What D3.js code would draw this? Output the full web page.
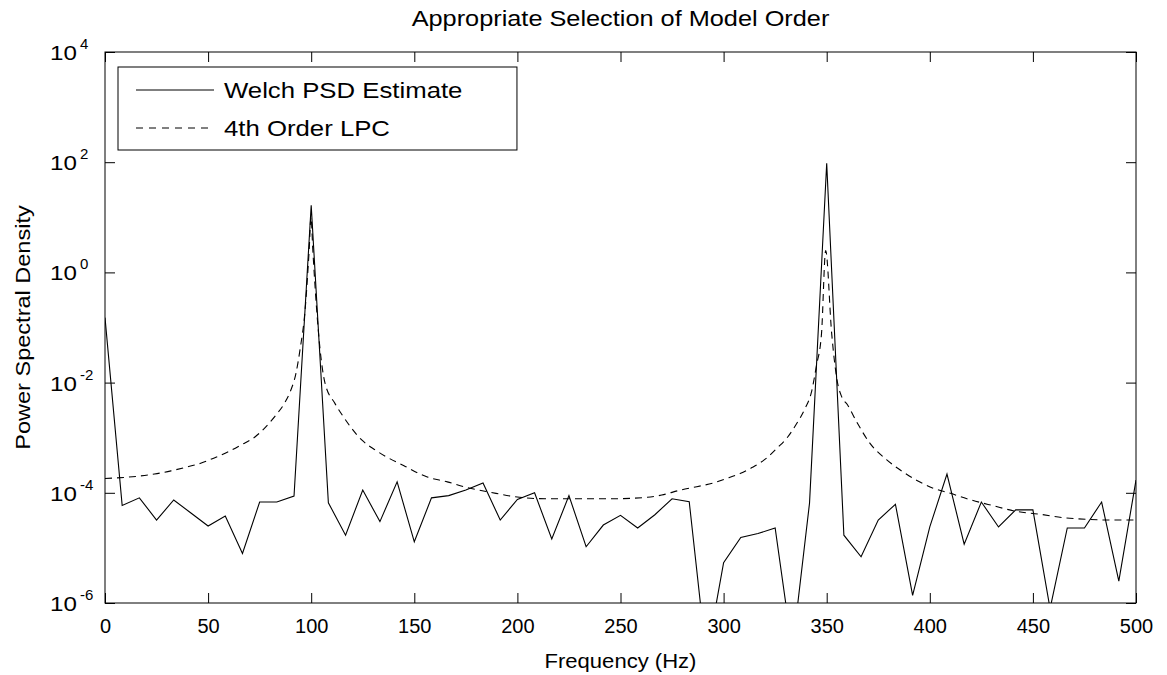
<!DOCTYPE html>
<html><head><meta charset="utf-8">
<script src="https://cdn.jsdelivr.net/npm/d3@7"></script>
<style>
body{margin:0;background:#fff;}
text{font-family:"Liberation Sans",Arial,Helvetica,sans-serif;fill:#000;}
</style></head>
<body><svg id="c" width="1167" height="675"></svg>
<script>
// ---- data ----
const title = "Appropriate Selection of Model Order";
const xLabel = "Frequency (Hz)";
const yLabel = "Power Spectral Density";
const seriesNames = ["Welch PSD Estimate", "4th Order LPC"];
const xTicks = [0, 50, 100, 150, 200, 250, 300, 350, 400, 450, 500];
const yTickExponents = [4, 2, 0, -2, -4, -6];

const welchFreq = [0, 8.33, 16.67, 25, 33.33, 41.67, 50, 58.33, 66.67, 75, 83.33, 91.67, 100, 108.33, 116.67, 125, 133.33, 141.67, 150, 158.33, 166.67, 175, 183.33, 191.67, 200, 208.33, 216.67, 225, 233.33, 241.67, 250, 258.33, 266.67, 275, 283.33, 291.67, 300, 308.33, 316.67, 325, 333.33, 341.67, 350, 358.33, 366.67, 375, 383.33, 391.67, 400, 408.33, 416.67, 425, 433.33, 441.67, 450, 458.33, 466.67, 475, 483.33, 491.67, 500];
const welchPSD = [1.51e-1, 5.9e-5, 8.1e-5, 3.2e-5, 7.4e-5, 4.3e-5, 2.5e-5, 3.8e-5, 7.9e-6, 6.8e-5, 6.8e-5, 8.7e-5, 16.6, 6.6e-5, 1.7e-5, 1.12e-4, 3.0e-5, 1.58e-4, 1.29e-5, 8.1e-5, 8.9e-5, 1.12e-4, 1.51e-4, 3.2e-5, 7.6e-5, 1.0e-4, 1.45e-5, 8.9e-5, 1.05e-5, 2.6e-5, 3.9e-5, 2.3e-5, 4.0e-5, 7.8e-5, 6.9e-5, 1.0e-7, 5.4e-6, 1.55e-5, 1.82e-5, 2.3e-5, 1.4e-7, 6.5e-5, 95.5, 1.7e-5, 6.9e-6, 3.2e-5, 6.2e-5, 1.38e-6, 2.4e-5, 2.19e-4, 1.17e-5, 6.8e-5, 2.4e-5, 4.9e-5, 4.9e-5, 7.9e-7, 2.3e-5, 2.3e-5, 6.8e-5, 2.5e-6, 1.7e-4];

const lpcFreq = [0, 16, 24, 32, 39, 47, 53, 60, 66, 73, 78, 83, 87, 90, 92.5, 94.6, 97, 99, 99.9, 100.8, 102.5, 104.3, 106.7, 111.5, 115.6, 119.6, 124.5, 131, 136, 145, 156, 166, 175, 187, 201, 214, 230, 246, 263, 270, 279, 287, 295, 301.5, 308, 314, 321, 326, 331, 335, 339.5, 342.5, 345, 347.5, 349.5, 352.4, 355, 357.3, 360, 364.5, 371, 379, 387, 394, 402, 410, 418, 431, 442, 453, 466, 476, 489, 500];
const lpcPSD = [1.82e-4, 2.0e-4, 2.19e-4, 2.5e-4, 2.9e-4, 3.5e-4, 4.3e-4, 5.6e-4, 7.4e-4, 1.05e-3, 1.58e-3, 2.6e-3, 4.2e-3, 7.1e-3, 1.41e-2, 4.0e-2, 0.2, 2.5, 10, 2.5, 0.25, 4.0e-2, 9.8e-3, 4.2e-3, 2.4e-3, 1.48e-3, 9.1e-4, 6.0e-4, 4.6e-4, 3.1e-4, 1.95e-4, 1.58e-4, 1.26e-4, 1.02e-4, 8.3e-5, 7.8e-5, 7.8e-5, 7.8e-5, 8.3e-5, 9.1e-5, 1.12e-4, 1.29e-4, 1.51e-4, 1.82e-4, 2.24e-4, 2.9e-4, 4.3e-4, 6.5e-4, 1.02e-3, 1.7e-3, 3.4e-3, 6.5e-3, 2.0e-2, 7.9e-2, 2.5, 7.9e-2, 1.12e-2, 5.5e-3, 4.0e-3, 1.95e-3, 7.9e-4, 4.0e-4, 2.4e-4, 1.66e-4, 1.2e-4, 9.8e-5, 7.8e-5, 5.8e-5, 4.6e-5, 4.1e-5, 3.5e-5, 3.3e-5, 3.2e-5, 3.2e-5];

// ---- layout ----
const L = 105, R = 1136, T = 52, B = 603;
const svg = d3.select("#c");
const x = d3.scaleLinear().domain([0, 500]).range([L, R]);
const y = d3.scaleLog().domain([1e-6, 1e4]).range([B, T]);

// widen text horizontally (scanned original has wide glyphs)
function stretch(sel, k) {
  sel.each(function () {
    const w = this.getComputedTextLength();
    d3.select(this).attr("textLength", w * k).attr("lengthAdjust", "spacingAndGlyphs");
  });
  return sel;
}

svg.append("defs").append("clipPath").attr("id", "clip")
  .append("rect").attr("x", L).attr("y", T).attr("width", R - L).attr("height", B - T);

// frame
svg.append("rect").attr("x", L).attr("y", T).attr("width", R - L).attr("height", B - T)
  .attr("fill", "none").attr("stroke", "#000").attr("stroke-width", 1);

const tl = 10;
const xb = svg.append("g").attr("transform", `translate(0,${B})`)
  .call(d3.axisBottom(x).tickValues(xTicks).tickSize(-tl).tickPadding(tl + 6).tickFormat(d3.format("d")));
const xt = svg.append("g").attr("transform", `translate(0,${T})`)
  .call(d3.axisTop(x).tickValues(xTicks).tickSize(-tl).tickFormat(""));
const yTickVals = yTickExponents.map(e => Math.pow(10, e));
const yl = svg.append("g").attr("transform", `translate(${L},0)`)
  .call(d3.axisLeft(y).tickValues(yTickVals).tickSize(-tl).tickFormat(""));
const yr = svg.append("g").attr("transform", `translate(${R},0)`)
  .call(d3.axisRight(y).tickValues(yTickVals).tickSize(-tl).tickFormat(""));
[xb, xt, yl, yr].forEach(g => {
  g.select(".domain").remove();
  g.selectAll(".tick line").attr("stroke", "#000").attr("stroke-width", 1);
});
xb.selectAll(".tick text").attr("font-size", 20).attr("font-family", "Liberation Sans, Arial, sans-serif").attr("fill", "#000");

// y tick labels with superscripts
const ylab = svg.append("g");
yTickExponents.forEach(e => {
  const ty = y(Math.pow(10, e));
  stretch(ylab.append("text").attr("x", 50).attr("y", ty + 8)
    .attr("font-size", 21).text("10"), 1.15);
  ylab.append("text").attr("x", 80).attr("y", ty - 3)
    .attr("font-size", 15).text(String(e));
});

// lines
const welch = welchFreq.map((f, i) => [f, welchPSD[i]]);
const lpc = lpcFreq.map((f, i) => [f, lpcPSD[i]]);
const plot = svg.append("g").attr("clip-path", "url(#clip)");
plot.append("path").datum(lpc)
  .attr("d", d3.line().x(d => x(d[0])).y(d => y(d[1])).curve(d3.curveMonotoneX))
  .attr("fill", "none").attr("stroke", "#000").attr("stroke-width", 1.1).attr("stroke-dasharray", "7,5");
plot.append("path").datum(welch)
  .attr("d", d3.line().x(d => x(d[0])).y(d => y(d[1])))
  .attr("fill", "none").attr("stroke", "#000").attr("stroke-width", 1.1);

// legend
const lg = svg.append("g");
const lbox = lg.append("rect").attr("x", 118).attr("y", 67).attr("height", 83)
  .attr("fill", "#fff").attr("stroke", "#000").attr("stroke-width", 1);
let maxR = 0;
[0, 1].forEach(i => {
  const cy = i === 0 ? 90 : 128;
  lg.append("line").attr("x1", 136).attr("x2", 214).attr("y1", cy).attr("y2", cy)
    .attr("stroke", "#000").attr("stroke-width", 1)
    .attr("stroke-dasharray", i === 1 ? "7,6" : null);
  const t = lg.append("text").attr("x", 224).attr("y", cy + 8).attr("font-size", 22).text(seriesNames[i]);
  stretch(t, 1.17);
  maxR = Math.max(maxR, 224 + t.node().getComputedTextLength() * 1.17);
});
lbox.attr("width", maxR + 14 - 118);

// titles
stretch(svg.append("text").attr("x", (L + R) / 2).attr("y", 26).attr("text-anchor", "middle")
  .attr("font-size", 22).text(title), 1.15);
stretch(svg.append("text").attr("x", (L + R) / 2).attr("y", 668).attr("text-anchor", "middle")
  .attr("font-size", 21).text(xLabel), 1.05);
stretch(svg.append("text").attr("transform", `translate(30,${(T + B) / 2}) rotate(-90)`)
  .attr("text-anchor", "middle").attr("font-size", 21).text(yLabel), 1.12);
</script></body></html>
